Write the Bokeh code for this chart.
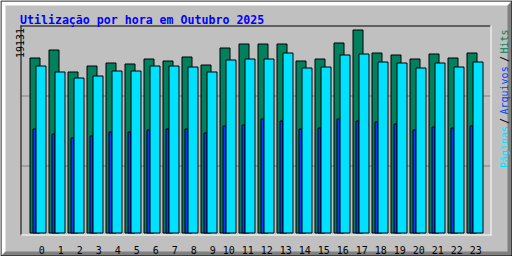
import math
from bokeh.plotting import figure
from bokeh.models import ColumnDataSource, Range1d
from bokeh.core.properties import value
from bokeh.embed import file_html
from bokeh.resources import INLINE

# ---------------- data ----------------
title_text = "Utilização por hora em Outubro 2025"
hours = list(range(24))
hour_labels = ["0", "1", "2", "3", "4", "5", "6", "7", "8", "9", "10", "11",
               "12", "13", "14", "15", "16", "17", "18", "19", "20", "21", "22", "23"]
hits = [16492, 17246, 15173, 15738, 16021, 15927, 16398, 16209, 16586, 15832, 17434, 17811,
        17811, 17811, 16209, 16398, 17906, 19131, 16963, 16775, 16398, 16869, 16492, 16963]
pages = [15738, 15173, 14607, 14796, 15267, 15267, 15738, 15738, 15644, 15173, 16304, 16398,
         16398, 16963, 15550, 15644, 16775, 16869, 16115, 16021, 15550, 16021, 15644, 16115]
files = [9801, 9330, 8953, 9141, 9518, 9518, 9707, 9801, 9801, 9424, 10084, 10178,
         10743, 10555, 9801, 9895, 10743, 10555, 10461, 10272, 9707, 9989, 9895, 10084]
legend_pages = "Páginas"
legend_files = "Arquivos"
legend_hits = "Hits"

# ---------------- style / layout ----------------
W, H = 512, 256
BG = "#C0C0C0"
DKGREY = "#808080"
HIT_C = "#00805C"
FILE_C = "#0040FF"
PAGE_C = "#00E0FF"
FONT = value("DejaVu Sans Mono")

SLOT = 19.0          # px per hour
X0 = 29.5            # px of first bar edge
BASE = 232.5         # px row of zero
SPAN = 203.0         # px height of max value
PX = 1.0 / SLOT

ymax = max(hits)
k = SPAN / ymax

p = figure(width=W, height=H, output_backend="svg", toolbar_location=None,
           x_range=Range1d(-X0 * PX, (W - X0) * PX),
           y_range=Range1d(-(H - BASE) / k, BASE / k),
           x_axis_location=None, y_axis_location=None, title=None,
           min_border=0, min_border_left=0, min_border_right=0,
           min_border_top=0, min_border_bottom=0,
           background_fill_color=BG, border_fill_color=BG, outline_line_color=None)
p.xgrid.visible = False
p.ygrid.visible = False
p.extra_x_ranges = {"px": Range1d(0, W)}
p.extra_y_ranges = {"px": Range1d(H, 0)}
pxr = dict(x_range_name="px", y_range_name="px")

# bevel border
p.patches(xs=[[0, W, W - 5, 5, 5, 0], [W, W, 0, 5, W - 5, W - 5]],
          ys=[[0, 0, 5, 5, H - 5, H], [0, H, H, H - 5, H - 5, 5]],
          fill_color=["#FFFFFF", DKGREY], line_color=None, **pxr)
p.quad(left=0.5, right=W - 0.5, top=0.5, bottom=H - 0.5, fill_color=None,
       line_color="black", line_width=1, **pxr)

# gridlines
p.segment(x0=[21, 21], x1=[490, 490], y0=[95.5, 165.5], y1=[95.5, 165.5],
          line_color=DKGREY, line_width=1, **pxr)

# inner frame
p.segment(x0=[20, 20.5], x1=[490, 20.5], y0=[25.5, 25], y1=[25.5, 235],
          line_color="black", line_width=1, **pxr)
p.segment(x0=[490.5, 20], x1=[490.5, 491], y0=[25, 234.5], y1=[235, 234.5],
          line_color="white", line_width=1, **pxr)

# bars
src = ColumnDataSource(dict(
    hour=hours, label=hour_labels, hits=hits, pages=pages, files=files,
    h_l=[h for h in hours], h_r=[h + 10 * PX for h in hours],
    f_l=[h + 3 * PX for h in hours], f_r=[h + 6 * PX for h in hours],
    p_l=[h + 6 * PX for h in hours], p_r=[h + 16 * PX for h in hours],
))
p.quad(left="h_l", right="h_r", bottom=0, top="hits", source=src,
       fill_color=HIT_C, line_color="black", line_width=1)
p.quad(left="f_l", right="f_r", bottom=0, top="files", source=src,
       fill_color=FILE_C, line_color="black", line_width=1)
p.quad(left="p_l", right="p_r", bottom=0, top="pages", source=src,
       fill_color=PAGE_C, line_color="black", line_width=1)

# hour labels
p.text(x="hour", y=249, text="label", source=src, y_range_name="px",
       x_offset=14.8, text_align="right", text_baseline="alphabetic",
       text_font=FONT, text_font_size="10px", text_color="black")

# title
p.text(x=[19.5], y=[19.5], text=[title_text], text_font=FONT, text_font_size="11.6px",
       text_font_style="bold", text_color="#0000FF", text_align="left",
       text_baseline="alphabetic", **pxr)

# max label
p.text(x=[19], y=[57.5], text=[str(ymax)], angle=math.pi / 2, text_font=FONT,
       text_font_size="10px", text_color="black", text_align="left",
       text_baseline="alphabetic", **pxr)

# right legend
p.text(x=[504] * 5, y=[167.5, 123.5, 114, 61.5, 53],
       text=[legend_pages, "/", legend_files, "/", legend_hits],
       text_color=[PAGE_C, "black", FILE_C, "black", HIT_C],
       angle=math.pi / 2, text_font=FONT, text_font_size="10px",
       text_align="left", text_baseline="alphabetic", **pxr)

open("out.html", "w").write(file_html(p, INLINE))
